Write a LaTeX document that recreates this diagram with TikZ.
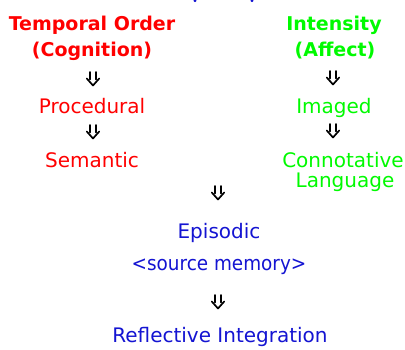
\documentclass[tikz,border=0pt]{standalone}
\usepackage{fontspec}
\setmainfont{DejaVu Sans}
\definecolor{cogred}{RGB}{255,0,0}
\definecolor{affgreen}{RGB}{0,250,0}
\definecolor{epiblue}{RGB}{20,20,210}
\tikzset{
  lbl/.style={inner sep=0pt, anchor=base, font=\fontsize{20}{24}\selectfont},
  head/.style={lbl, font=\fontsize{19}{23}\selectfont\bfseries},
  cog/.style={text=cogred},
  aff/.style={text=affgreen},
  epi/.style={text=epiblue},
  % downward double arrow drawn as two shafts and a chevron head
  dblarrow/.pic={
    \draw[line width=1.7pt, line cap=round]
      (-2.7,-7) -- (-2.7,0.5) (2.7,-7) -- (2.7,0.5);
    \draw[line width=1.7pt, line cap=round, line join=round]
      (-6.2,-0.5) -- (0,6.5) -- (6.2,-0.5);
  }
}
\begin{document}
\begin{tikzpicture}[x=1pt,y=-1pt]
\useasboundingbox[fill=white] (0,0) rectangle (405,349);

% clipped descenders of the heading above
\fill[epiblue] (195,0.8) ellipse (1.6 and 1.4);
\fill[epiblue] (252,0.8) ellipse (1.6 and 1.4);

% cognition column
\node[head,cog] (temporal) at (92,30) {Temporal Order};
\node[head,cog] (cognition) at (92,56) {(Cognition)};
\pic (a1) at (93,79) {dblarrow};
\node[lbl,cog] (procedural) at (92,113) {Procedural};
\pic (a2) at (93,132) {dblarrow};
\node[lbl,cog] (semantic) at (92,167) {Semantic};

% affect column
\node[head,aff] (intensity) at (334,30) {Intensity};
\node[head,aff] (affect) at (335,56) {(Affect)};
\pic (a3) at (333,78) {dblarrow};
\node[lbl,aff] (imaged) at (334,113) {Imaged};
\pic (a4) at (333,131) {dblarrow};
\node[lbl,aff] (connotative) at (343,167) {Connotative};
\node[lbl,aff] (language) at (345,187) {Language};

% merged episodic stage
\pic (a5) at (218,193) {dblarrow};
\node[lbl,epi] (episodic) at (219,238) {Episodic};
\node[lbl,epi] (source) at (219,270) {\scalebox{0.92}[1]{<source memory>}};
\pic (a6) at (218,302) {dblarrow};
\node[lbl,epi] (reflective) at (220,342) {Reflective Integration};
\end{tikzpicture}
\end{document}
